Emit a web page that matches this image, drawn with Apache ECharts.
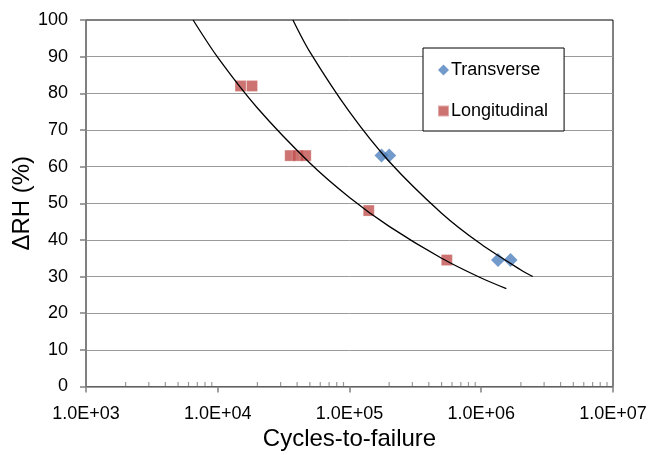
<!DOCTYPE html>
<html>
<head>
<meta charset="utf-8">
<script src="https://cdn.jsdelivr.net/npm/echarts@6/dist/echarts.min.js"></script>
<style>html,body{margin:0;padding:0;background:#fff}#c{width:649px;height:455px}</style>
</head>
<body>
<div id="c"></div>
<script>
// ---- data ----
const transverseN  = [1.75e5, 2.0e5, 1.34e6, 1.67e6];
const transverseRH = [63, 63, 34.5, 34.5];
const longitudinalN  = [1.49e4, 1.82e4, 3.55e4, 4.05e4, 4.65e4, 1.40e5, 5.48e5];
const longitudinalRH = [82, 82, 63, 63, 63, 48, 34.5];
// trend curves
const longFitN  = [6.5e3, 1e4, 2e4, 5e4, 1e5, 2e5, 5e5, 1e6, 1.55e6];
const longFitRH = [100, 89.8, 76.0, 61.0, 51.6, 43.7, 35.0, 29.6, 26.7];
const transFitN  = [3.72e4, 5e4, 1e5, 2e5, 5e5, 1e6, 2e6, 2.46e6];
const transFitRH = [100, 91.3, 74.9, 61.4, 47.3, 38.8, 31.8, 30.0];
// axis ticks
const xTickLabels = ['1.0E+03', '1.0E+04', '1.0E+05', '1.0E+06', '1.0E+07'];
const xMinorTicks = [2e3,3e3,4e3,5e3,6e3,7e3,8e3,9e3, 2e4,3e4,4e4,5e4,6e4,7e4,8e4,9e4,
                     2e5,3e5,4e5,5e5,6e5,7e5,8e5,9e5, 2e6,3e6,4e6,5e6,6e6,7e6,8e6,9e6];
const seriesNames = ['Transverse', 'Longitudinal'];

const zip = (a, b) => a.map((v, i) => [v, b[i]]);
const FONT = 'Liberation Sans';

const chart = echarts.init(document.getElementById('c'), null, {renderer: 'canvas'});
chart.setOption({
  animation: false,
  backgroundColor: '#fff',
  textStyle: {fontFamily: FONT},
  grid: {left: 86, right: 36, top: 20, bottom: 68.5, containLabel: false, outerBoundsMode: 'none',
         show: true, borderColor: '#000', borderWidth: 1, backgroundColor: 'transparent'},
  legend: {
    data: [{name: seriesNames[0], icon: 'diamond'}, {name: seriesNames[1], icon: 'rect'}],
    orient: 'vertical',
    left: 423, top: 48,
    padding: [12, 16, 10, 14],
    itemGap: 21,
    itemWidth: 11, itemHeight: 11,
    borderColor: '#000', borderWidth: 1, backgroundColor: '#fff',
    textStyle: {fontFamily: FONT, fontSize: 18, color: '#000', lineHeight: 20, padding: [0, 0, 0, -3]}
  },
  xAxis: {
    type: 'log', logBase: 10, min: 1e3, max: 1e7,
    name: 'Cycles-to-failure', nameLocation: 'middle', nameGap: 41, nameMoveOverlap: false,
    nameTextStyle: {fontFamily: FONT, fontSize: 24, color: '#000'},
    axisLine: {show: true, lineStyle: {color: '#808080', width: 1.5}},
    axisTick: {show: true, inside: false, length: 6, lineStyle: {color: '#808080', width: 1.5}},
    axisLabel: {fontFamily: FONT, fontSize: 18, color: '#000', margin: 19,
      formatter: v => xTickLabels[Math.round(Math.log10(v)) - 3]},
    splitLine: {show: false},
    minorTick: {show: false}
  },
  yAxis: {
    type: 'value', min: 0, max: 100, interval: 10,
    name: 'ΔRH (%)', nameLocation: 'middle', nameGap: 52, nameRotate: 90, nameMoveOverlap: false,
    nameTextStyle: {fontFamily: FONT, fontSize: 24, color: '#000'},
    axisLine: {show: true, lineStyle: {color: '#808080', width: 1.5}},
    axisTick: {show: true, inside: false, length: 6, lineStyle: {color: '#808080', width: 1.5}},
    axisLabel: {fontFamily: FONT, fontSize: 18, color: '#000', margin: 18},
    splitLine: {show: true, showMaxLine: false, showMinLine: false, lineStyle: {color: '#9a9a9a', width: 1}}
  },
  series: [
    {
      name: 'minorTicks', type: 'scatter', silent: true, clip: false, z: 5,
      data: xMinorTicks.map(v => [v, 0]),
      symbol: 'rect', symbolSize: [1.2, 4], symbolOffset: [0, -2.5],
      itemStyle: {color: '#808080'}, tooltip: {show: false}
    },
    {
      name: 'longFit', type: 'line', data: zip(longFitN, longFitRH),
      showSymbol: false, smooth: 0.3, lineStyle: {color: '#000', width: 1.3}, z: 3, silent: true
    },
    {
      name: 'transFit', type: 'line', data: zip(transFitN, transFitRH),
      showSymbol: false, smooth: 0.3, lineStyle: {color: '#000', width: 1.3}, z: 3, silent: true
    },
    {
      name: seriesNames[1], type: 'scatter', data: zip(longitudinalN, longitudinalRH),
      symbol: 'rect', symbolSize: 11, z: 2,
      itemStyle: {color: '#c0504d', borderColor: 'rgba(255,255,255,0.5)', borderWidth: 0.6}
    },
    {
      name: seriesNames[0], type: 'scatter', data: zip(transverseN, transverseRH),
      symbol: 'diamond', symbolSize: 14, z: 2,
      itemStyle: {color: '#4f81bd'}
    }
  ]
});
</script>
</body>
</html>
